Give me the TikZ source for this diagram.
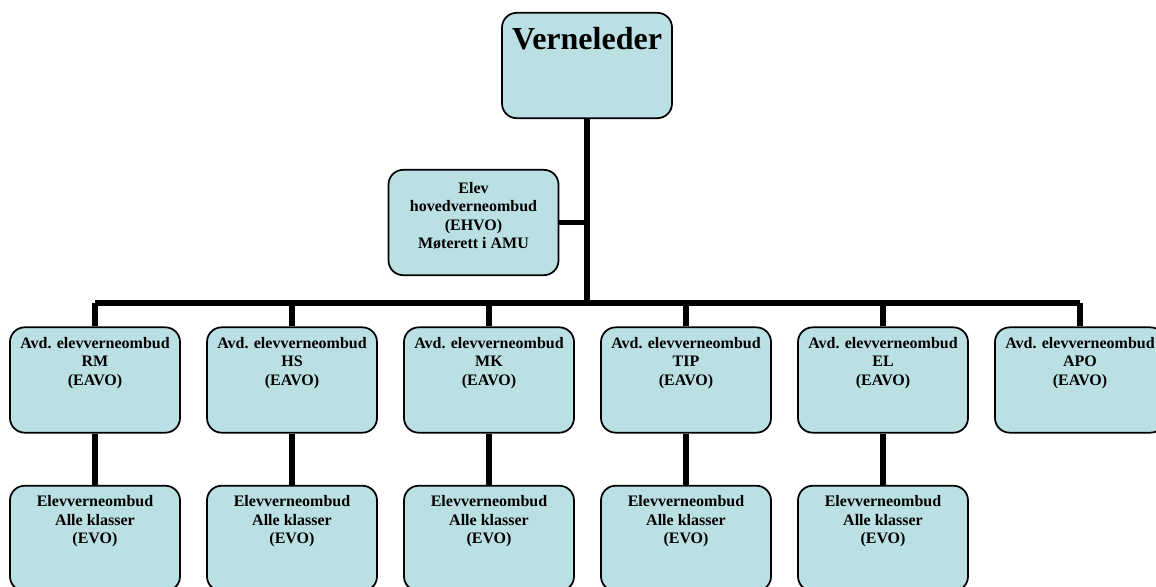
\documentclass[tikz,border=0pt]{standalone}
\usepackage{fontspec}
\setmainfont{Liberation Serif}
\usetikzlibrary{positioning, backgrounds}
\definecolor{boxFill}{RGB}{187, 224, 227}

\begin{document}
\begin{tikzpicture}[x=0.75pt, y=-0.75pt]
        \tikzstyle{box} = [rectangle, rounded corners=11pt, minimum width=127.5pt, minimum height=79pt, draw=black, line width=1.3pt, fill=boxFill, inner sep=0pt]
        \tikzstyle{boxtext} = [anchor=north, align=center, font=\fontsize{12}{13.7}\selectfont\bfseries, inner sep=0pt]
        \tikzstyle{line} = [line width=4.2pt, black]

        \path[use as bounding box, clip] (0,0) rectangle (1156,586);

        % Verneleder
        \node[box] (leder) at (587,65.5) {};
        \node[anchor=north, font=\fontsize{24}{28}\selectfont\bfseries, inner sep=0pt] (ledert) at ([yshift=-11pt]leder.north) {Verneleder};

        % Elevhovedverneombud
        \node[box] (ehvo) at (473.5,222.5) {};
        \node[boxtext] (ehvot) at ([yshift=-10pt]ehvo.north) {Elev\\hovedverneombud\\(EHVO)\\Møterett i AMU};

        % Avdelinger
        \node[box] (rm) at (95,380) {};
        \node[boxtext] (rmt) at ([yshift=-8pt]rm.north) {Avd. elevverneombud\\RM\\(EAVO)};
        \node[box] (hs) at (292,380) {};
        \node[boxtext] (hst) at ([yshift=-8pt]hs.north) {Avd. elevverneombud\\HS\\(EAVO)};
        \node[box] (mk) at (489,380) {};
        \node[boxtext] (mkt) at ([yshift=-8pt]mk.north) {Avd. elevverneombud\\MK\\(EAVO)};
        \node[box] (tip) at (686,380) {};
        \node[boxtext] (tipt) at ([yshift=-8pt]tip.north) {Avd. elevverneombud\\TIP\\(EAVO)};
        \node[box] (el) at (883,380) {};
        \node[boxtext] (elt) at ([yshift=-8pt]el.north) {Avd. elevverneombud\\EL\\(EAVO)};
        \node[box] (apo) at (1080,380) {};
        \node[boxtext] (apot) at ([yshift=-8pt]apo.north) {Avd. elevverneombud\\APO\\(EAVO)};

        % Elevverneombud
        \foreach \d in {rm, hs, mk, tip, el} {
            \node[box, below=38.5pt of \d] (\d evo) {};
            \node[boxtext] (\d evot) at ([yshift=-8pt]\d evo.north) {Elevverneombud\\Alle klasser\\(EVO)};
        }

        % Linjer
        \begin{scope}[on background layer]
            \coordinate (bus) at (587,303);
            \draw[line] (leder.south) -- (bus);
            \draw[line] (ehvo.east) -- (ehvo.east -| leder.south);
            \draw[line] (rm.north |- bus) -- (apo.north |- bus);
            \foreach \d in {rm, hs, mk, tip, el, apo}
                \draw[line] (\d.north) -- (\d.north |- bus);
            \foreach \d in {rm, hs, mk, tip, el}
                \draw[line] (\d.south) -- (\d evo.north);
        \end{scope}
    \end{tikzpicture}
\end{document}
